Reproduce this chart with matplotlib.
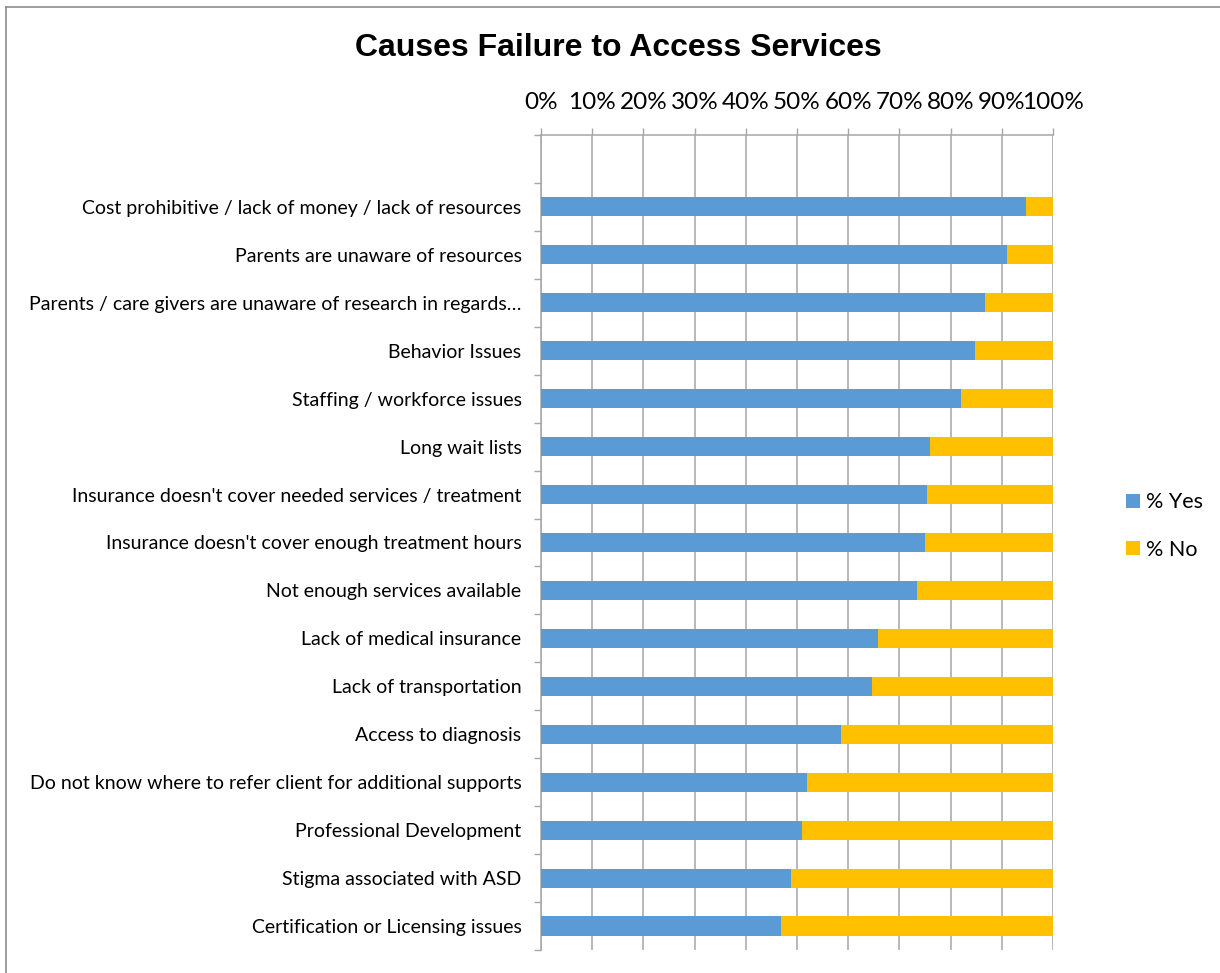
import numpy as np
import matplotlib
matplotlib.use('Agg')
import matplotlib.pyplot as plt
from matplotlib.lines import Line2D

# data (top to bottom)
categories = [
    'Cost prohibitive / lack of money / lack of resources',
    'Parents are unaware of resources',
    'Parents / care givers are unaware of research in regards\u2026',
    'Behavior Issues',
    'Staffing / workforce issues',
    'Long wait lists',
    "Insurance doesn't cover needed services / treatment",
    "Insurance doesn't cover enough treatment hours",
    'Not enough services available',
    'Lack of medical insurance',
    'Lack of transportation',
    'Access to diagnosis',
    'Do not know where to refer client for additional supports',
    'Professional Development',
    'Stigma associated with ASD',
    'Certification or Licensing issues',
]
pct_yes = [94.8, 91.0, 86.8, 84.8, 82.1, 75.9, 75.4, 75.0, 73.5, 65.8, 64.7, 58.5, 51.9, 50.9, 48.9, 46.8]
pct_no = [100 - v for v in pct_yes]
xticks = [0, 10, 20, 30, 40, 50, 60, 70, 80, 90, 100]

blue = '#5B9BD5'
gold = '#FFC000'
grey = '#A6A6A6'

plt.rcParams['font.family'] = ['Lato', 'DejaVu Sans']

W, H = 1220, 973
fig = plt.figure(figsize=(W / 100, H / 100), dpi=100)
ax = fig.add_axes([541 / W, 1 - 950 / H, 512 / W, 815 / H])

y = np.arange(len(categories))
ax.barh(y, pct_yes, height=0.4, color=blue, label='% Yes', zorder=3)
ax.barh(y, pct_no, left=pct_yes, height=0.4, color=gold, label='% No', zorder=3)

ax.set_xlim(0, 100)
ax.set_ylim(len(categories) - 0.5, -1.5)

ax.xaxis.tick_top()
ax.set_xticks(xticks)
ax.set_xticklabels([f'{t}%' for t in xticks], fontsize=17.5)
ax.tick_params(axis='x', length=5, width=1, color=grey, pad=11)
ax.grid(axis='x', color=grey, linewidth=1.1, zorder=0)

ax.set_yticks(y)
ax.set_yticklabels(categories, fontsize=14)
ax.tick_params(axis='y', which='major', length=0, pad=14)
ax.set_yticks(np.arange(-1.5, len(categories), 1.0), minor=True)
ax.tick_params(axis='y', which='minor', length=5, width=1, color=grey)

for s in ['right', 'bottom']:
    ax.spines[s].set_visible(False)
for s in ['left', 'top']:
    ax.spines[s].set_color(grey)
    ax.spines[s].set_linewidth(1.1)

fig.text(618 / W, 1 - 48 / H, 'Causes Failure to Access Services', ha='center', va='center',
         fontsize=23, fontweight='bold', family=['Liberation Sans', 'DejaVu Sans'])

fig.legend(loc='center left', bbox_to_anchor=(1107 / W, 1 - 526 / H), frameon=False,
           fontsize=15.5, handlelength=0.65, handleheight=0.65, handletextpad=0.25, labelspacing=1.27)

# outer chart frame (only top and left edges fall inside the picture)
fig.add_artist(Line2D([6 / W, 1.0], [1 - 7 / H, 1 - 7 / H], color='#8C8C8C', lw=1.2))
fig.add_artist(Line2D([6 / W, 6 / W], [0.0, 1 - 7 / H], color='#8C8C8C', lw=1.2))

fig.savefig('out.png', dpi=100)
